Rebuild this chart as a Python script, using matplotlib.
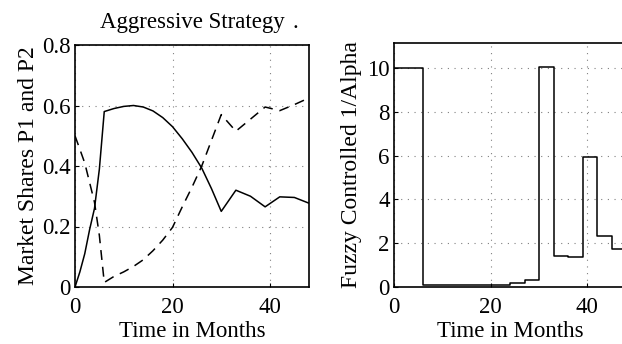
import matplotlib
matplotlib.use("Agg")
import matplotlib.pyplot as plt

# ---- data ----
t_p1 = [0, 1, 2, 3, 4, 5, 6, 8, 10, 12, 14, 16, 18, 20, 22, 24, 26, 28, 30, 33, 36, 39, 42, 45, 48]
p1 = [0.0, 0.05, 0.11, 0.19, 0.26, 0.39, 0.58, 0.59, 0.597, 0.6, 0.595, 0.582, 0.56, 0.53, 0.49,
      0.445, 0.393, 0.325, 0.25, 0.32, 0.30, 0.265, 0.298, 0.296, 0.277]

t_p2 = [0, 2, 4, 5, 6, 8, 10, 12, 14, 16, 18, 20, 22, 24, 26, 28, 30, 33, 36, 39, 42, 45, 48]
p2 = [0.5, 0.41, 0.28, 0.17, 0.015, 0.035, 0.05, 0.068, 0.09, 0.12, 0.155, 0.197, 0.265, 0.33,
      0.40, 0.485, 0.57, 0.515, 0.555, 0.595, 0.583, 0.603, 0.625]

t_alpha = [0, 6, 24, 27, 30, 33, 36, 39, 42, 45, 48]
inv_alpha = [10.0, 0.07, 0.2, 0.3, 10.05, 1.42, 1.36, 5.95, 2.35, 1.75, 1.75]

x_ticks = [0, 20, 40]
left_yticks = [0, 0.2, 0.4, 0.6, 0.8]
left_ylabels = ["0", "0.2", "0.4", "0.6", "0.8"]
right_yticks = [0, 2, 4, 6, 8, 10]

plt.rcParams['font.family'] = ['Liberation Serif', 'DejaVu Serif']
FS = 16.5

fig = plt.figure(figsize=(6.22, 3.44), dpi=100)

def style(ax):
    for s in ax.spines.values():
        s.set_linewidth(1.2)
        s.set_color('black')
    ax.tick_params(direction='in', length=3, width=0.8, labelsize=FS)
    ax.tick_params(axis='x', pad=7.5)
    ax.tick_params(axis='y', pad=3)
    ax.grid(True, linestyle=(0, (1, 5)), color='0.5', linewidth=0.8)

# left axes
ax1 = fig.add_axes([75/622, 57/344, 234/622, 242/344])
ax1.plot(t_p1, p1, color='black', lw=1.1)
ax1.plot(t_p2, p2, color='black', lw=1.1, linestyle=(0, (6.5, 4.5)))
ax1.set_xlim(0, 48)
ax1.set_ylim(0, 0.8)
ax1.set_xticks(x_ticks)
ax1.set_yticks(left_yticks)
ax1.set_yticklabels(left_ylabels)
style(ax1)
ax1.set_xlabel("Time in Months", fontsize=FS, labelpad=2)
ax1.set_ylabel("Market Shares P1 and P2", fontsize=17, labelpad=2)
ax1.set_title("Aggressive Strategy", fontsize=FS, pad=12)
fig.text(295/622, 1 - 28/344, ".", fontsize=FS, ha='center', va='baseline')

# right axes (extends past the figure edge, as in the reference)
ax2 = fig.add_axes([394/622, 57/344, 232/622, 244/344])
ax2.plot(t_alpha, inv_alpha, color='black', lw=1.1, drawstyle='steps-post')
ax2.set_xlim(0, 48)
ax2.set_ylim(0, 11.15)
ax2.set_xticks(x_ticks)
ax2.set_yticks(right_yticks)
style(ax2)
ax2.set_xlabel("Time in Months", fontsize=FS, labelpad=2)
ax2.set_ylabel("Fuzzy Controlled 1/Alpha", fontsize=17, labelpad=4)

fig.savefig("out.png", dpi=100)
